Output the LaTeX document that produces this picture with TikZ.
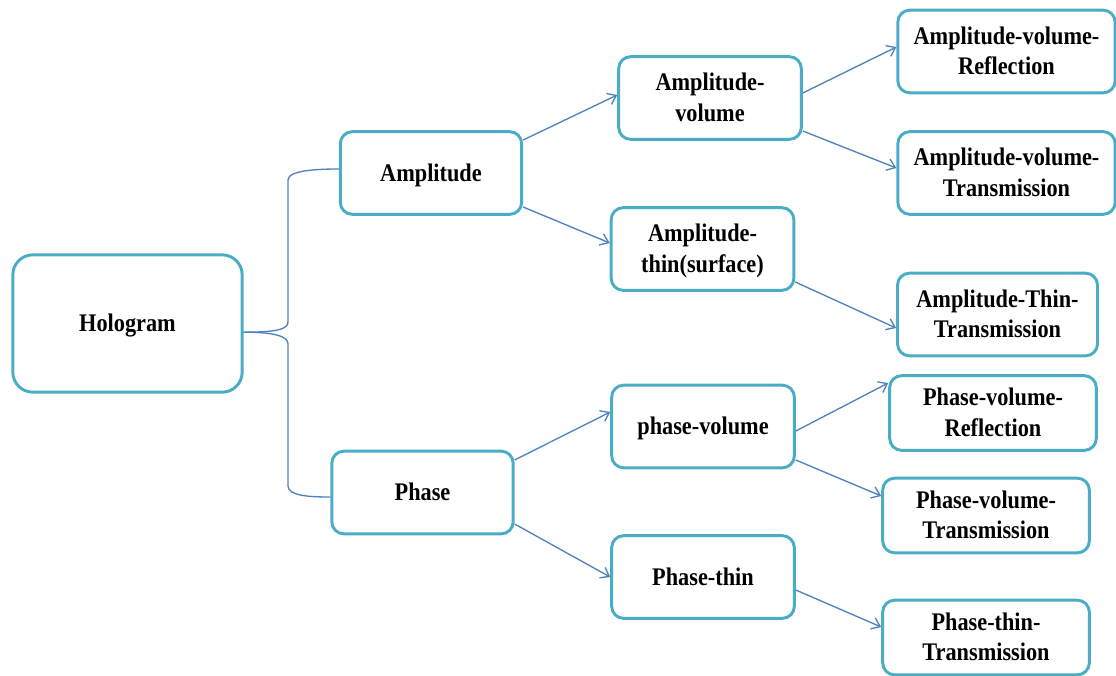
\documentclass[tikz,border=0pt]{standalone}
\usepackage{fontspec}
\usepackage{xcolor}
\usepackage{tikz}
\usetikzlibrary{arrows.meta}

\newfontfamily\boxfont{Liberation Serif}[FakeStretch=0.88]
\definecolor{boxline}{RGB}{75,172,198}
\definecolor{arrowline}{RGB}{79,129,189}

\tikzset{
  box/.style={draw=boxline, line width=2.2pt, rounded corners=9pt, align=center,
    font=\boxfont\bfseries\fontsize{19}{23}\selectfont, inner sep=2pt, text depth=1pt},
  link/.style={color=arrowline, line width=1pt, -{Straight Barb[length=6pt,width=9pt]}},
  brace/.style={draw=arrowline, line width=1pt}
}

\begin{document}
\begin{tikzpicture}[x=0.75pt, y=-0.75pt]
        \useasboundingbox (0,0) rectangle (1116,675);

        \node[box, rounded corners=15pt, minimum width=172pt, minimum height=103pt] (holo) at (127.5,323.5) {Hologram};
        \node[box, minimum width=136pt, minimum height=62pt] (amp) at (431,173) {Amplitude};
        \node[box, minimum width=136pt, minimum height=62pt] (phase) at (422.5,492.5) {Phase};

        \node[box, minimum width=137pt, minimum height=62pt] (ampvol) at (710,98) {Amplitude-\\volume};
        \node[box, minimum width=137pt, minimum height=62pt] (ampthin) at (702.5,249) {Amplitude-\\thin(surface)};
        \node[box, minimum width=137pt, minimum height=62pt] (phasevol) at (703,426.5) {phase-volume};
        \node[box, minimum width=137pt, minimum height=62pt] (phasethin) at (703,577) {Phase-thin};

        \node[box, minimum width=163pt, minimum height=62pt] (avr) at (1006.5,51.5) {Amplitude-volume-\\Reflection};
        \node[box, minimum width=163pt, minimum height=62pt] (avt) at (1006.5,173) {Amplitude-volume-\\Transmission};
        \node[box, minimum width=150pt, minimum height=62pt] (att) at (997.5,314.5) {Amplitude-Thin-\\Transmission};
        \node[box, minimum width=155pt, minimum height=56pt] (pvr) at (993,413) {Phase-volume-\\Reflection};
        \node[box, minimum width=155pt, minimum height=56pt] (pvt) at (986,515.5) {Phase-volume-\\Transmission};
        \node[box, minimum width=155pt, minimum height=56pt] (ptt) at (986,637.5) {Phase-thin-\\Transmission};

        % brace from the root
        \coordinate (fork) at ([yshift=-6.5pt]holo.east);
        \draw[brace] (fork) .. controls +(30,0) and +(0,8) .. (288,322) -- (288,180)
            .. controls +(0,-10) and +(-20,0) .. (amp.west |- 0,169);
        \draw[brace] (fork) .. controls +(30,0) and +(0,-8) .. (288,344) -- (288,486)
            .. controls +(0,10) and +(-20,0) .. (phase.west |- 0,497);

        \path[link]
        (amp.east |- 0,140) edge (ampvol.west |- 0,95)
        (amp.east |- 0,207) edge (ampthin.west |- 0,243)
        (ampvol.east |- 0,93) edge (avr.west |- 0,47)
        (ampvol.east |- 0,131) edge (avt.west |- 0,168)
        (ampthin.east |- 0,282) edge (att.west |- 0,328)
        (phase.east |- 0,460) edge (phasevol.west |- 0,412)
        (phase.east |- 0,524) edge (phasethin.west |- 0,577)
        (phasevol.east |- 0,431) edge (pvr.west |- 0,383)
        (phasevol.east |- 0,460) edge (pvt.west |- 0,496)
        (phasethin.east |- 0,590) edge (ptt.west |- 0,627);

\end{tikzpicture}
\end{document}
